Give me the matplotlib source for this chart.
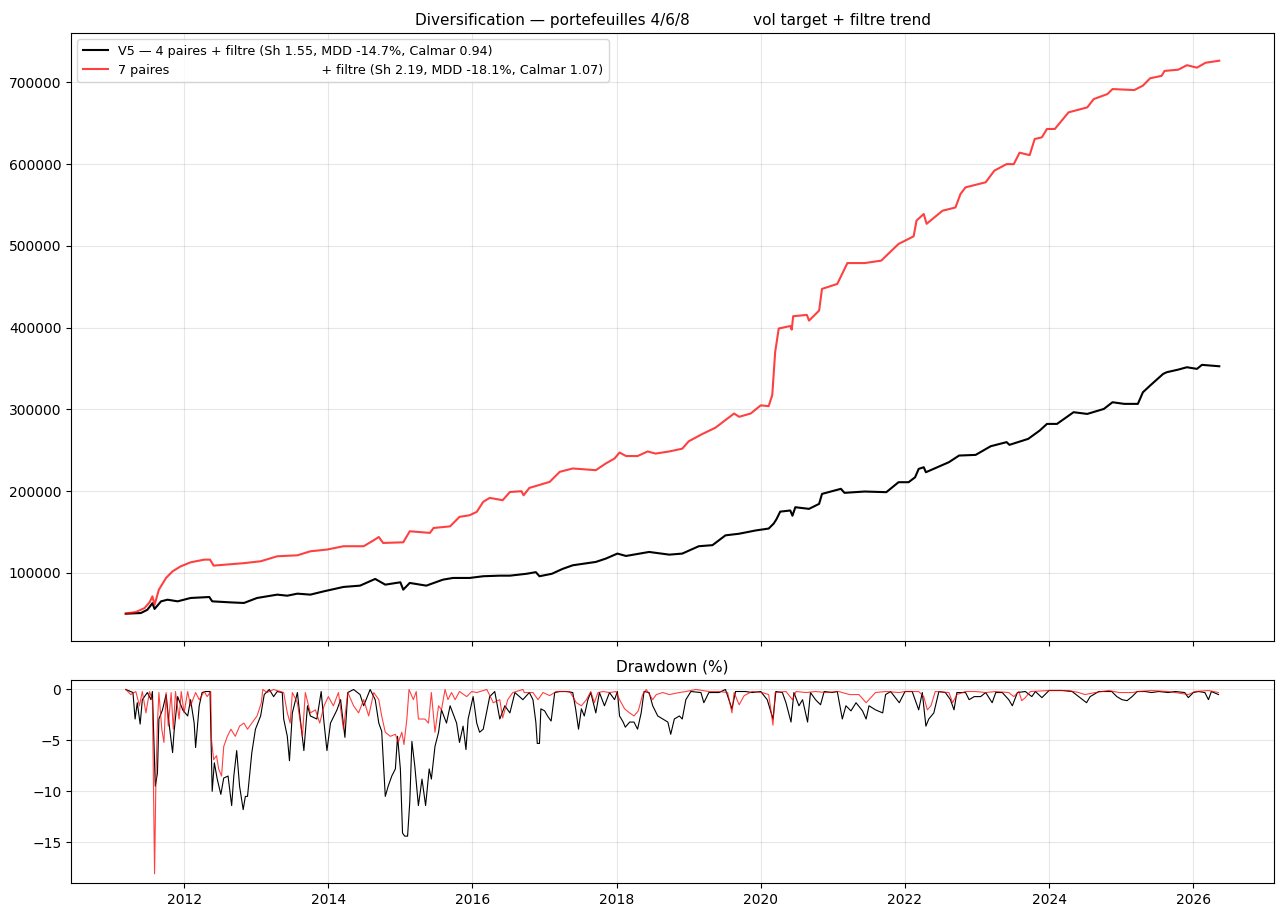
import matplotlib
matplotlib.use("Agg")
import matplotlib.pyplot as plt
import pandas as pd

# equity curves (decimal year, value in k€)
v5_years = [2011.19, 2011.40, 2011.49, 2011.56, 2011.59, 2011.68, 2011.77, 2011.91, 2012.09, 2012.35,
            2012.39, 2012.65, 2012.83, 2013.01, 2013.29, 2013.43, 2013.57, 2013.75, 2013.94, 2014.21,
            2014.44, 2014.65, 2014.79, 2015.00, 2015.04, 2015.13, 2015.36, 2015.59, 2015.73, 2015.96,
            2016.15, 2016.38, 2016.52, 2016.75, 2016.88, 2016.93, 2017.10, 2017.25, 2017.39, 2017.71,
            2017.85, 2018.01, 2018.13, 2018.45, 2018.73, 2018.91, 2019.14, 2019.33, 2019.51, 2019.70,
            2019.93, 2020.11, 2020.18, 2020.22, 2020.27, 2020.41, 2020.44, 2020.48, 2020.67, 2020.81,
            2020.85, 2021.11, 2021.16, 2021.44, 2021.74, 2021.91, 2022.05, 2022.14, 2022.19, 2022.26,
            2022.29, 2022.61, 2022.75, 2022.98, 2023.19, 2023.41, 2023.45, 2023.71, 2023.87, 2023.97,
            2024.11, 2024.34, 2024.53, 2024.76, 2024.88, 2025.04, 2025.23, 2025.30, 2025.40, 2025.58,
            2025.63, 2025.79, 2025.91, 2026.05, 2026.12, 2026.36]
v5_equity = [50.2, 51, 55, 63, 56, 65.3, 67.3, 65.3, 69.4, 70.6,
             65.3, 64, 63.3, 69.4, 73.5, 72.2, 74.7, 73.5, 77.6, 82.9,
             84.5, 92.7, 85.7, 88.6, 79.6, 87.8, 84.5, 91.8, 93.9, 93.9,
             96, 96.7, 96.7, 99, 101, 96, 99, 105, 109.4, 113.5,
             117.6, 123.7, 120.8, 125.7, 122.4, 123.7, 132.7, 134, 146, 148,
             152, 154.3, 160.4, 166, 175, 176.4, 170, 180.4, 178.4, 184.5,
             196.7, 202.9, 198, 199.6, 198.8, 211, 211, 217, 227.3, 229.3,
             223.2, 235.5, 243.6, 244.4, 255, 260, 256.7, 264, 274.2, 282.3,
             282.3, 296.6, 294.5, 300.6, 308.8, 306.8, 306.8, 321, 329.2, 343.4,
             345.5, 348.7, 351.6, 349.6, 354.5, 352.8]

p7_years = [2011.19, 2011.33, 2011.45, 2011.52, 2011.56, 2011.59, 2011.65, 2011.75, 2011.84, 2011.95,
            2012.09, 2012.28, 2012.36, 2012.41, 2012.55, 2012.83, 2013.06, 2013.29, 2013.57, 2013.75,
            2013.98, 2014.21, 2014.49, 2014.63, 2014.70, 2014.76, 2015.04, 2015.13, 2015.41, 2015.46,
            2015.69, 2015.82, 2015.96, 2016.06, 2016.15, 2016.24, 2016.42, 2016.52, 2016.68, 2016.71,
            2016.79, 2017.07, 2017.21, 2017.39, 2017.71, 2017.85, 2017.97, 2018.04, 2018.13, 2018.29,
            2018.43, 2018.54, 2018.73, 2018.91, 2019.00, 2019.19, 2019.37, 2019.51, 2019.63, 2019.70,
            2019.86, 2020.00, 2020.11, 2020.16, 2020.20, 2020.25, 2020.41, 2020.43, 2020.45, 2020.64,
            2020.67, 2020.81, 2020.85, 2021.06, 2021.20, 2021.44, 2021.67, 2021.91, 2022.12, 2022.16,
            2022.26, 2022.30, 2022.52, 2022.70, 2022.77, 2022.84, 2023.12, 2023.24, 2023.41, 2023.51,
            2023.59, 2023.73, 2023.80, 2023.90, 2023.97, 2024.08, 2024.27, 2024.53, 2024.62, 2024.81,
            2024.88, 2025.18, 2025.30, 2025.40, 2025.56, 2025.60, 2025.79, 2025.91, 2026.05, 2026.17,
            2026.36]
p7_equity = [50.2, 52.2, 57, 64, 71.4, 61, 79.6, 94, 102, 108,
             113, 116.3, 116.3, 109, 110, 112, 114.3, 120.4, 121.6, 126.5,
             128.6, 132.7, 132.7, 140, 144, 136.7, 137.5, 151, 149, 155,
             157, 168.6, 170.6, 174.7, 187, 191.8, 189, 199, 200, 195,
             204, 211.4, 223.7, 227.8, 225.7, 234, 240, 247.3, 243, 243,
             248.6, 246, 248.6, 252, 261, 270, 277.6, 287, 295, 291,
             295, 305, 304, 317.6, 370, 399, 402, 397.6, 414, 415.6,
             408.6, 420.9, 447.4, 453.5, 479, 479, 482, 502.4, 511.7, 531,
             539, 527, 543, 547, 563.5, 571.6, 577.8, 592, 600, 600,
             614, 611, 630.7, 632.8, 643, 643, 663.3, 669.4, 679.6, 685.7,
             691.8, 690.6, 696, 705, 708, 714, 715.5, 721, 718, 724,
             726.5]

# drawdowns (%)
v5_dd_years = [2011.19, 2011.29, 2011.32, 2011.35, 2011.39, 2011.42, 2011.49, 2011.54, 2011.56, 2011.60,
               2011.63, 2011.65, 2011.70, 2011.75, 2011.79, 2011.84, 2011.86, 2011.91, 2011.98, 2012.05,
               2012.09, 2012.14, 2012.16, 2012.21, 2012.25, 2012.30, 2012.36, 2012.38, 2012.39, 2012.42,
               2012.46, 2012.51, 2012.55, 2012.61, 2012.66, 2012.69, 2012.73, 2012.77, 2012.82, 2012.85,
               2012.88, 2012.91, 2012.94, 2012.99, 2013.06, 2013.11, 2013.18, 2013.24, 2013.29, 2013.36,
               2013.38, 2013.43, 2013.46, 2013.50, 2013.57, 2013.61, 2013.66, 2013.71, 2013.75, 2013.84,
               2013.90, 2013.94, 2013.98, 2014.03, 2014.12, 2014.17, 2014.23, 2014.27, 2014.35, 2014.44,
               2014.49, 2014.58, 2014.65, 2014.70, 2014.74, 2014.79, 2014.83, 2014.88, 2014.93, 2014.96,
               2015.00, 2015.03, 2015.06, 2015.10, 2015.13, 2015.16, 2015.20, 2015.25, 2015.30, 2015.35,
               2015.40, 2015.43, 2015.48, 2015.53, 2015.57, 2015.64, 2015.69, 2015.78, 2015.82, 2015.87,
               2015.91, 2015.94, 2016.01, 2016.06, 2016.10, 2016.15, 2016.24, 2016.31, 2016.38, 2016.45,
               2016.52, 2016.59, 2016.70, 2016.79, 2016.84, 2016.88, 2016.90, 2016.93, 2016.95, 2017.00,
               2017.04, 2017.09, 2017.14, 2017.21, 2017.30, 2017.39, 2017.43, 2017.47, 2017.51, 2017.55,
               2017.60, 2017.64, 2017.71, 2017.76, 2017.83, 2017.90, 2017.97, 2018.01, 2018.04, 2018.09,
               2018.12, 2018.18, 2018.24, 2018.29, 2018.34, 2018.38, 2018.45, 2018.50, 2018.57, 2018.64,
               2018.71, 2018.75, 2018.80, 2018.87, 2018.91, 2018.96, 2019.03, 2019.17, 2019.21, 2019.28,
               2019.42, 2019.51, 2019.60, 2019.65, 2019.79, 2019.88, 2020.00, 2020.09, 2020.17, 2020.21,
               2020.30, 2020.35, 2020.42, 2020.46, 2020.53, 2020.58, 2020.65, 2020.69, 2020.76, 2020.83,
               2020.88, 2020.99, 2021.06, 2021.13, 2021.18, 2021.25, 2021.32, 2021.41, 2021.46, 2021.50,
               2021.59, 2021.69, 2021.73, 2021.80, 2021.92, 2022.00, 2022.10, 2022.19, 2022.24, 2022.29,
               2022.33, 2022.40, 2022.47, 2022.56, 2022.63, 2022.68, 2022.72, 2022.84, 2022.89, 2022.96,
               2023.05, 2023.12, 2023.21, 2023.26, 2023.35, 2023.44, 2023.49, 2023.56, 2023.67, 2023.76,
               2023.81, 2023.90, 2024.00, 2024.18, 2024.32, 2024.41, 2024.48, 2024.52, 2024.57, 2024.69,
               2024.87, 2024.94, 2025.01, 2025.08, 2025.15, 2025.22, 2025.33, 2025.42, 2025.52, 2025.65,
               2025.75, 2025.88, 2025.93, 2026.00, 2026.07, 2026.16, 2026.21, 2026.25, 2026.35]
v5_dd = [0, -0.3, -2.9, -1.3, -3.4, -1, -0.3, -1, -0.2, -9.5,
         -8.2, -2.9, -2, -0.5, -3.3, -6.2, -4.2, -0.7, -2, -2.6,
         -1, -3.3, -5.7, -1.6, -0.3, -0.2, -0.2, -6.9, -10, -7.2,
         -8.8, -10.3, -8.7, -8.5, -11.4, -8.5, -6.0, -9.5, -11.8, -10.5,
         -10.5, -8.3, -6.2, -3.9, -2.6, -0.5, 0, -0.7, -0.2, -0.3,
         -2.9, -4.6, -7.0, -2.3, -0.3, -2.9, -6, -1.6, -2.6, -2.9,
         -0.2, -3.3, -6, -3.3, -2, -1, -4.7, -0.3, 0, -0.5,
         -1.6, 0, -1, -3.3, -4.1, -10.5, -9.5, -8.5, -7.8, -4.6,
         -7.8, -14.1, -14.4, -14.4, -11.1, -5.1, -7.5, -11.4, -8.8, -11.4,
         -7.8, -8.8, -5.6, -4.2, -2, -3.3, -1.6, -3.3, -5.2, -3.6,
         -5.9, -2.9, -0.7, -3.3, -4.2, -3.9, -0.7, -0.2, -2.9, -1.6,
         -2.3, -0.3, -1, -0.3, -1, -3.2, -5.3, -5.3, -1.9, -2.1,
         -2.6, -3.1, -0.3, -0.2, -0.2, -0.3, -1.9, -3.9, -1.9, -2.6,
         -1, -0.3, -2.3, -0.3, -1.6, -0.3, -1, -0.2, -2.6, -3.2,
         -3.7, -3.2, -3.2, -3.9, -2.3, -0.2, -0.3, -1.6, -2.6, -2.9,
         -3.2, -4.4, -2.9, -2.6, -2.9, -1, -0.2, -0.3, -1.3, -0.3,
         -0.3, 0, -1.9, -0.2, -0.2, -0.3, -0.2, -1, -2.9, -0.2,
         -0.3, -1.3, -3.2, -0.3, -1.6, -1, -3.2, -0.3, -1, -1.5,
         -0.2, -0.3, -0.2, -2.9, -1.6, -2.1, -1.3, -2.1, -2.9, -1.6,
         -2, -2.3, -0.5, -0.2, -1.3, -0.2, -0.2, -2, -0.3, -3.6,
         -2.9, -2.3, -0.2, -0.3, -1, -2, -0.3, -0.3, -1, -0.7,
         -0.7, -0.3, -1.3, -0.3, -0.3, -1, -1.6, -0.3, -0.2, -0.7,
         -0.2, -0.8, -0.1, -0.1, -0.2, -0.7, -1.1, -1.3, -0.7, -0.2,
         -0.2, -0.7, -1, -1.1, -0.7, -0.2, -0.2, -0.3, -0.2, -0.3,
         -0.2, -0.3, -0.8, -0.3, -0.2, -0.3, -1, -0.2, -0.5]

p7_dd_years = [2011.19, 2011.26, 2011.33, 2011.38, 2011.42, 2011.47, 2011.52, 2011.56, 2011.59, 2011.61,
               2011.63, 2011.65, 2011.69, 2011.72, 2011.75, 2011.78, 2011.82, 2011.85, 2011.88, 2011.93,
               2011.96, 2012.00, 2012.05, 2012.09, 2012.16, 2012.21, 2012.28, 2012.32, 2012.37, 2012.38,
               2012.41, 2012.45, 2012.48, 2012.52, 2012.55, 2012.60, 2012.65, 2012.71, 2012.77, 2012.83,
               2012.88, 2012.94, 2013.01, 2013.07, 2013.09, 2013.15, 2013.24, 2013.38, 2013.43, 2013.47,
               2013.50, 2013.57, 2013.64, 2013.68, 2013.75, 2013.82, 2013.88, 2013.94, 2014.00, 2014.07,
               2014.14, 2014.21, 2014.27, 2014.35, 2014.42, 2014.49, 2014.56, 2014.63, 2014.70, 2014.74,
               2014.79, 2014.86, 2014.93, 2014.97, 2015.02, 2015.05, 2015.09, 2015.12, 2015.18, 2015.22,
               2015.25, 2015.34, 2015.39, 2015.43, 2015.48, 2015.53, 2015.57, 2015.62, 2015.66, 2015.71,
               2015.76, 2015.82, 2015.92, 2015.99, 2016.06, 2016.20, 2016.29, 2016.38, 2016.42, 2016.49,
               2016.56, 2016.70, 2016.72, 2016.84, 2016.91, 2016.98, 2017.07, 2017.16, 2017.35, 2017.44,
               2017.51, 2017.58, 2017.64, 2017.69, 2017.74, 2017.81, 2017.90, 2017.99, 2018.04, 2018.11,
               2018.18, 2018.24, 2018.30, 2018.36, 2018.41, 2018.50, 2018.55, 2018.64, 2018.73, 2018.87,
               2018.96, 2019.10, 2019.28, 2019.42, 2019.54, 2019.60, 2019.63, 2019.70, 2019.77, 2019.88,
               2020.02, 2020.11, 2020.17, 2020.20, 2020.35, 2020.44, 2020.49, 2020.63, 2020.76, 2020.90,
               2021.08, 2021.23, 2021.36, 2021.46, 2021.50, 2021.59, 2021.73, 2021.92, 2022.00, 2022.19,
               2022.26, 2022.31, 2022.36, 2022.42, 2022.61, 2022.66, 2022.72, 2022.84, 2022.98, 2023.12,
               2023.26, 2023.44, 2023.51, 2023.58, 2023.62, 2023.67, 2023.74, 2024.00, 2024.27, 2024.41,
               2024.50, 2024.64, 2024.83, 2024.97, 2025.15, 2025.24, 2025.42, 2025.65, 2025.93, 2026.02,
               2026.21, 2026.35]
p7_dd = [0, -0.5, -0.2, -1.6, -0.2, -2.3, -0.2, -1, -18.1, -8.2,
         -3.3, -0.3, -3.9, -5.2, -0.3, -3.6, -0.3, -3.9, -0.2, -2.9,
         -0.2, -2.3, -0.2, -1.6, -0.3, -1, -0.2, -0.7, -0.2, -4.9,
         -6.9, -6.5, -7.8, -8.5, -5.6, -4.6, -3.9, -4.6, -3.6, -3.3,
         -3.9, -3.3, -2.6, -1.3, 0, -0.3, 0, -0.3, -2.3, -3.3,
         -0.3, -1.3, -4.6, -0.3, -2.3, -2, -3.3, -1.6, -0.7, -1.6,
         -0.3, -3.9, -0.3, -1.6, -2.3, -1, -2.6, -0.3, -1, -2.6,
         -4.2, -4.6, -4.4, -5.2, -4.2, -5.4, -2.9, 0, -1, -0.2,
         -2.9, -2.9, -3.3, -0.3, -4.2, -1.6, -2, 0, -1, -0.3,
         -1, -0.2, -0.7, -0.2, -0.3, 0, -1.3, -1, -2.8, -1,
         -0.3, 0, -0.3, -0.3, -1, -0.3, -0.6, -0.2, -0.2, -1.3,
         -1.6, -1, -0.2, -1.3, -0.3, -0.2, -0.3, -0.2, -1, -1.9,
         -2.3, -2.6, -2.1, -0.5, 0, -1, -0.5, -0.3, -0.5, -0.3,
         -0.2, 0, -0.2, -0.2, -0.3, -2.3, -0.3, -1.5, -0.6, -0.2,
         -0.3, -0.5, -3.5, -0.3, -0.2, -1, -0.2, -0.3, -0.2, -0.3,
         -0.2, -0.5, -0.5, -1.3, -1, -0.3, -0.2, -0.3, -0.2, -0.2,
         -0.7, -2, -1.6, -0.2, -0.3, -1.3, -0.5, -0.2, -0.2, -0.3,
         -0.2, -0.3, -0.7, -0.2, -1.1, -0.8, -0.2, -0.1, -0.1, -0.3,
         -0.5, -0.3, -0.1, -0.3, -0.3, -0.2, -0.1, -0.2, -0.5, -0.2,
         -0.1, -0.3]

label_v5 = "V5 \u2014 4 paires + filtre (Sh 1.55, MDD -14.7%, Calmar 0.94)"
label_p7 = "7 paires" + " " * 38 + "+ filtre (Sh 2.19, MDD -18.1%, Calmar 1.07)"
title_top = "Diversification \u2014 portefeuilles 4/6/8" + " " * 13 + "vol target + filtre trend"


def to_dates(years):
    out = []
    for y in years:
        yr = int(y)
        start = pd.Timestamp(year=yr, month=1, day=1)
        out.append(start + pd.Timedelta(days=(y - yr) * 365.25))
    return out


fig, (ax1, ax2) = plt.subplots(2, 1, figsize=(12.85, 9.18), dpi=100, sharex=True,
                               gridspec_kw={"height_ratios": [3, 1]})
fig.subplots_adjust(left=0.0553, right=0.9914, top=0.964, bottom=0.0381, hspace=0.096)

ax1.plot(to_dates(v5_years), [v * 1000 for v in v5_equity], color="black", lw=1.5, label=label_v5)
ax1.plot(to_dates(p7_years), [v * 1000 for v in p7_equity], color="red", alpha=0.75, lw=1.5, label=label_p7)
ax1.set_title(title_top, fontsize=11)
ax1.legend(loc="upper left", fontsize=9.2)
ax1.grid(True, alpha=0.3)
ax1.tick_params(labelbottom=False)

ax2.plot(to_dates(v5_dd_years), v5_dd, color="black", lw=0.8)
ax2.plot(to_dates(p7_dd_years), p7_dd, color="red", alpha=0.75, lw=0.8)
ax2.set_title("Drawdown (%)", fontsize=11)
ax2.grid(True, alpha=0.3)

fig.savefig("out.png", dpi=100)
